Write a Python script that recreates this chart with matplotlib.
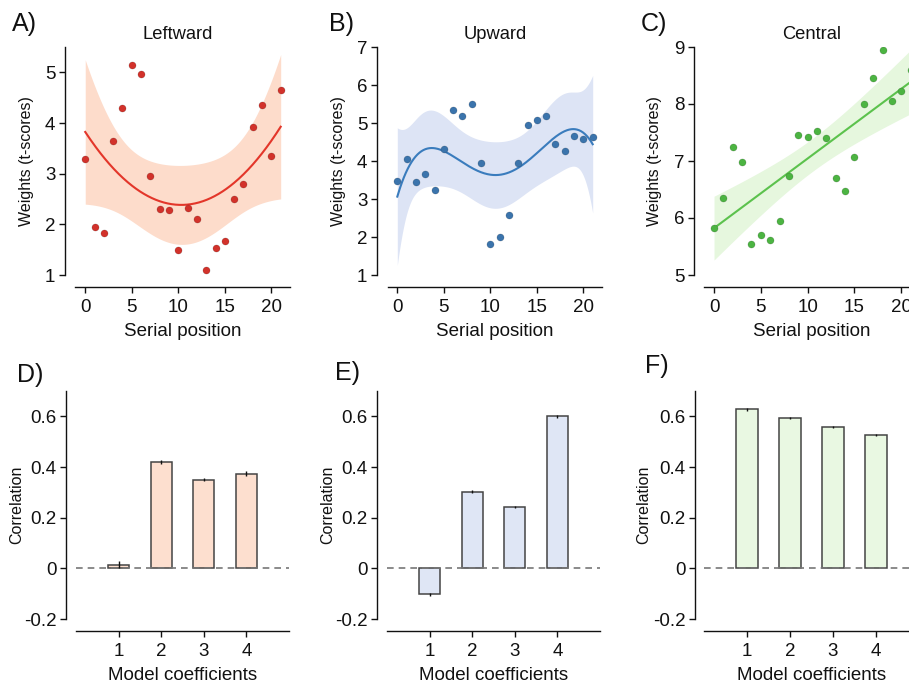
import numpy as np
import matplotlib
matplotlib.use("Agg")
import matplotlib.pyplot as plt

plt.rcParams['font.family'] = ['Liberation Sans', 'DejaVu Sans']

# ---------------- data ----------------
serial_pos = np.arange(22)
left_w = [3.28, 1.94, 1.83, 3.65, 4.29, 5.14, 4.96, 2.95, 2.31, 2.28, 1.50,
          2.33, 2.10, 1.09, 1.53, 1.67, 2.50, 2.80, 3.92, 4.35, 3.34, 4.66]
up_w = [3.47, 4.05, 3.44, 3.66, 3.25, 4.31, 5.35, 5.18, 5.50, 3.94, 1.82,
        1.99, 2.59, 3.94, 4.96, 5.09, 5.18, 4.46, 4.26, 4.67, 4.59, 4.62]
cen_w = [5.83, 6.35, 7.25, 6.98, 5.55, 5.71, 5.62, 5.95, 6.74, 7.45, 7.42,
         7.52, 7.40, 6.71, 6.48, 7.07, 8.00, 8.46, 8.95, 8.06, 8.22, 8.59]

coef_labels = [1, 2, 3, 4]
corr_left = [0.015, 0.420, 0.350, 0.373]
err_left = [0.014, 0.008, 0.007, 0.010]
corr_up = [-0.103, 0.303, 0.242, 0.600]
err_up = [0.005, 0.005, 0.005, 0.006]
corr_cen = [0.627, 0.592, 0.557, 0.527]
err_cen = [0.005, 0.004, 0.005, 0.004]

titles = ["Leftward", "Upward", "Central"]
top_letters = ["A)", "B)", "C)"]
bot_letters = ["D)", "E)", "F)"]

pt_colors = ["#D2322B", "#3B74AC", "#4CB442"]
line_colors = ["#E3362A", "#3A7CBD", "#5CC24D"]
band_colors = ["#FDDCCB", "#DDE4F5", "#E6F7DE"]
bar_colors = ["#FDDFCF", "#DFE6F5", "#E9F8E2"]

W, H = 909, 683
fig = plt.figure(figsize=(W / 100, H / 100), dpi=100)


def ax_px(x0, x1, ytop, ybot):
    return fig.add_axes([x0 / W, 1 - ybot / H, (x1 - x0) / W, (ybot - ytop) / H])


def style(ax, lpx, bpx):
    ax.spines['top'].set_visible(False)
    ax.spines['right'].set_visible(False)
    ax.spines['left'].set_position(('outward', lpx * 0.72))
    ax.spines['bottom'].set_position(('outward', bpx * 0.72))
    for s in ('left', 'bottom'):
        ax.spines[s].set_linewidth(1.0)
        ax.spines[s].set_color('#111111')
    ax.tick_params(axis='both', labelsize=13.5, length=4, width=1.0, color='#111111',
                   labelcolor='#111111')
    ax.tick_params(axis='x', pad=5)
    ax.tick_params(axis='y', pad=3)
    ax.patch.set_visible(False)


def fit_band(x, y, order, tval, xs):
    x = np.asarray(x, float)
    y = np.asarray(y, float)
    X = np.vander(x, order + 1)
    beta, *_ = np.linalg.lstsq(X, y, rcond=None)
    resid = y - X @ beta
    dof = len(x) - (order + 1)
    s2 = resid @ resid / dof
    XtXi = np.linalg.inv(X.T @ X)
    Xs = np.vander(xs, order + 1)
    yhat = Xs @ beta
    se = np.sqrt(s2 * np.einsum('ij,jk,ik->i', Xs, XtXi, Xs))
    return yhat, yhat - tval * se, yhat + tval * se


# ---------------- top row ----------------
top_specs = [
    dict(x0=75, x1=290, xlim=(-1.1, 22), ylim=(1, 5.5), yt=[1, 2, 3, 4, 5], data=left_w,
         order=2, t=2.093, lp=10, title_x=0.478),
    dict(x0=388, x1=602, xlim=(-1.0, 22), ylim=(1, 7), yt=[1, 2, 3, 4, 5, 6, 7], data=up_w,
         order=4, t=2.110, lp=11, title_x=0.5),
    dict(x0=704, x1=920, xlim=(-1.07, 22), ylim=(5, 9), yt=[5, 6, 7, 8, 9], data=cen_w,
         order=1, t=2.086, lp=10, title_x=0.5),
]
letter_pos_top = [(12, 31.5), (329, 31.5), (641, 31.5)]

for i, sp in enumerate(top_specs):
    ax = ax_px(sp['x0'], sp['x1'], 47, 275)
    style(ax, sp['lp'], 12)
    xs = np.linspace(0, 21, 300)
    yhat, lo, hi = fit_band(serial_pos, sp['data'], sp['order'], sp['t'], xs)
    ax.fill_between(xs, lo, hi, color=band_colors[i], lw=0, zorder=1)
    ax.plot(xs, yhat, color=line_colors[i], lw=1.5, zorder=2)
    ax.scatter(serial_pos, sp['data'], s=26, color=pt_colors[i], edgecolor='#00000030',
               linewidth=0.5, zorder=3)
    ax.set_xlim(*sp['xlim'])
    ax.set_ylim(*sp['ylim'])
    ax.set_yticks(sp['yt'])
    ax.set_xticks([0, 5, 10, 15, 20])
    ax.set_xlabel("Serial position", fontsize=13.5, labelpad=5, color='#111111')
    ax.set_ylabel("Weights (t-scores)", fontsize=11.5, color='#111111')
    ax.yaxis.set_label_coords((34 - sp['x0'] + (sp['x0'] - 75 if i == 0 else 0)) / 215
                              if i == 0 else (sp['x0'] - 42 - sp['x0']) / 215, 0.5)
    ax.text(sp['title_x'], 1.035, titles[i], transform=ax.transAxes, ha='center',
            va='baseline', fontsize=13.2, color='#111111')
    lx, ly = letter_pos_top[i]
    fig.text(lx / W, 1 - ly / H, top_letters[i], fontsize=18, va='baseline', ha='left',
             color='#111111')

# ---------------- bottom row ----------------
bot_specs = [
    dict(x0=76, x1=289, vals=corr_left, errs=err_left, lp=10),
    dict(x0=387, x1=600, vals=corr_up, errs=err_up, lp=10),
    dict(x0=704, x1=919, vals=corr_cen, errs=err_cen, lp=9),
]
letter_pos_bot = [(17, 382), (335, 380), (645, 373)]

for i, sp in enumerate(bot_specs):
    ax = ax_px(sp['x0'], sp['x1'], 391, 619)
    style(ax, sp['lp'], 12)
    ax.bar(coef_labels, sp['vals'], width=0.5, color=bar_colors[i], edgecolor='#444444',
           linewidth=1.1, zorder=2)
    ax.errorbar(coef_labels, sp['vals'], yerr=sp['errs'], fmt='none', ecolor='#111111',
                elinewidth=1.0, capsize=0, zorder=3)
    ax.axhline(0, color='#777777', lw=1.2, ls=(0, (4, 3)), zorder=4)
    ax.set_xlim(0, 5)
    ax.set_ylim(-0.2, 0.7)
    ax.set_xticks(coef_labels)
    ax.set_yticks([-0.2, 0, 0.2, 0.4, 0.6])
    ax.set_yticklabels(["-0.2", "0", "0.2", "0.4", "0.6"])
    ax.set_xlabel("Model coefficients", fontsize=13.5, labelpad=5, color='#111111')
    ax.set_ylabel("Correlation", fontsize=11.5, color='#111111')
    ax.yaxis.set_label_coords(-52 / 213, 0.5)
    lx, ly = letter_pos_bot[i]
    fig.text(lx / W, 1 - ly / H, bot_letters[i], fontsize=18, va='baseline', ha='left',
             color='#111111')

fig.savefig("out.png", dpi=100)
